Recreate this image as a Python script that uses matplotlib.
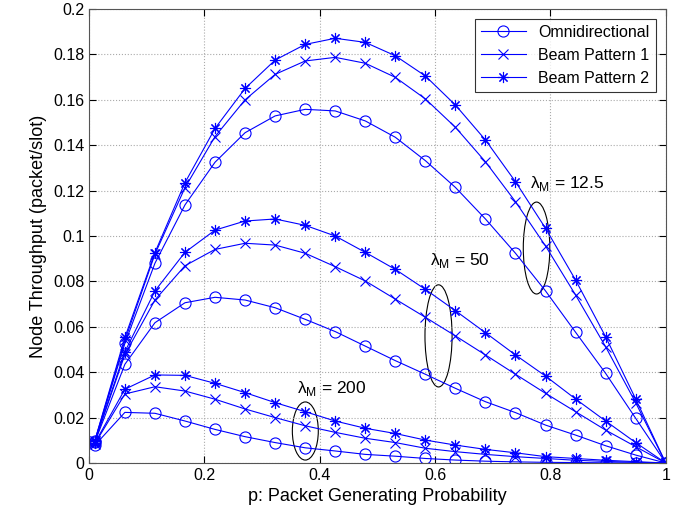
import numpy as np
import matplotlib
matplotlib.use('Agg')
import matplotlib.pyplot as plt
from matplotlib.patches import Ellipse

plt.rcParams['font.family'] = ['Liberation Sans', 'DejaVu Sans']
plt.rcParams['mathtext.fontset'] = 'custom'
plt.rcParams['mathtext.rm'] = 'Liberation Sans'

p = np.linspace(0.01, 1.0, 20)

# lambda_M = 12.5
omni_125 = [0.0097, 0.0527, 0.088, 0.1137, 0.1325, 0.1455, 0.1529, 0.1558, 0.1551, 0.1507,
            0.1435, 0.1332, 0.1214, 0.1075, 0.0924, 0.0758, 0.0576, 0.0395, 0.0197, 0.0]
bp1_125 = [0.0098, 0.054, 0.092, 0.1213, 0.1438, 0.160, 0.1712, 0.1771, 0.1787, 0.1761,
           0.1699, 0.1604, 0.1479, 0.1327, 0.1151, 0.0956, 0.074, 0.0512, 0.0266, 0.0]
bp2_125 = [0.0099, 0.0553, 0.0927, 0.1235, 0.1474, 0.165, 0.1775, 0.1844, 0.1871, 0.1853,
           0.1794, 0.1705, 0.1577, 0.1423, 0.1239, 0.1034, 0.0806, 0.0556, 0.0282, 0.0]
# lambda_M = 50
omni_50 = [0.0092, 0.0435, 0.0618, 0.0706, 0.073, 0.0718, 0.0684, 0.0633, 0.0579, 0.0515,
           0.0451, 0.0391, 0.0329, 0.027, 0.0222, 0.0167, 0.0123, 0.0076, 0.0035, 0.0]
bp1_50 = [0.0095, 0.0478, 0.0718, 0.0869, 0.0941, 0.0968, 0.096, 0.0924, 0.0865, 0.0802,
          0.0722, 0.0642, 0.056, 0.0476, 0.0391, 0.0307, 0.0226, 0.0145, 0.0072, 0.0]
bp2_50 = [0.0096, 0.049, 0.0758, 0.0928, 0.1026, 0.1066, 0.1075, 0.1047, 0.100, 0.0928,
          0.0853, 0.0765, 0.0671, 0.0574, 0.0476, 0.0383, 0.0282, 0.0185, 0.009, 0.0]
# lambda_M = 200
omni_200 = [0.0078, 0.0223, 0.0219, 0.0185, 0.0148, 0.0116, 0.009, 0.0067, 0.0053, 0.0038,
            0.003, 0.002, 0.0013, 0.0008, 0.0005, 0.0003, 0.0002, 0.0001, 0.00005, 0.0]
bp1_200 = [0.0085, 0.0304, 0.0336, 0.0317, 0.0281, 0.0238, 0.020, 0.0164, 0.0135, 0.0109,
           0.009, 0.0065, 0.005, 0.0038, 0.0028, 0.002, 0.0012, 0.0007, 0.0003, 0.0]
bp2_200 = [0.0088, 0.0325, 0.0388, 0.0386, 0.0351, 0.031, 0.0266, 0.0226, 0.0185, 0.0153,
           0.013, 0.0101, 0.0079, 0.006, 0.0045, 0.0028, 0.002, 0.0012, 0.0006, 0.0]

labels = ['Omnidirectional', 'Beam Pattern 1', 'Beam Pattern 2']
col = '#0000ff'
star = (8, 2, 0)

fig = plt.figure(figsize=(6.8, 5.2), dpi=100)
ax = fig.add_axes([0.131, 0.1096, 0.848, 0.8731])

groups = [(omni_125, bp1_125, bp2_125), (omni_50, bp1_50, bp2_50), (omni_200, bp1_200, bp2_200)]
for i, (o, b1, b2) in enumerate(groups):
    ax.plot(p, o, '-', color=col, lw=0.8, marker='o', ms=8, mfc='none', mew=0.8,
            label=labels[0] if i == 0 else None)
    ax.plot(p, b1, '-', color=col, lw=0.8, marker='x', ms=7, mew=0.8,
            label=labels[1] if i == 0 else None)
    ax.plot(p, b2, '-', color=col, lw=0.8, marker=star, ms=8, mew=0.8,
            label=labels[2] if i == 0 else None)

# ellipses around the groups
ax.add_patch(Ellipse((0.776, 0.0947), 0.046, 0.0405, fill=False, ec='k', lw=0.8))
ax.add_patch(Ellipse((0.606, 0.056), 0.047, 0.045, fill=False, ec='k', lw=0.8))
ax.add_patch(Ellipse((0.375, 0.0141), 0.045, 0.0256, fill=False, ec='k', lw=0.8))
ax.text(0.764, 0.1233, 'λ$_{\\mathrm{M}}$ = 12.5', fontsize=12.5, va='center')
ax.text(0.592, 0.089, 'λ$_{\\mathrm{M}}$ = 50', fontsize=12.5, va='center')
ax.text(0.36, 0.033, 'λ$_{\\mathrm{M}}$ = 200', fontsize=12.5, va='center')

ax.set_xlim(0, 1)
ax.set_ylim(0, 0.2)
ax.set_xticks([0, 0.2, 0.4, 0.6, 0.8, 1])
ax.set_xticklabels(['0', '0.2', '0.4', '0.6', '0.8', '1'])
ax.set_yticks(np.arange(0, 0.201, 0.02))
ax.set_yticklabels(['0', '0.02', '0.04', '0.06', '0.08', '0.1', '0.12', '0.14', '0.16', '0.18', '0.2'])
ax.tick_params(direction='in', top=True, right=True, labelsize=11.5, length=5)
ax.grid(True, ls=':', color='#aaaaaa', lw=0.8)
ax.set_xlabel('p: Packet Generating Probability', fontsize=13)
ax.set_ylabel('Node Throughput (packet/slot)', fontsize=13)
for s in ax.spines.values():
    s.set_color('#555555')

leg = ax.legend(loc='upper right', fontsize=11.5, fancybox=False, edgecolor='k',
                handlelength=2.8, borderaxespad=0.6)
leg.get_frame().set_linewidth(0.8)

fig.savefig('out.png', dpi=100)
